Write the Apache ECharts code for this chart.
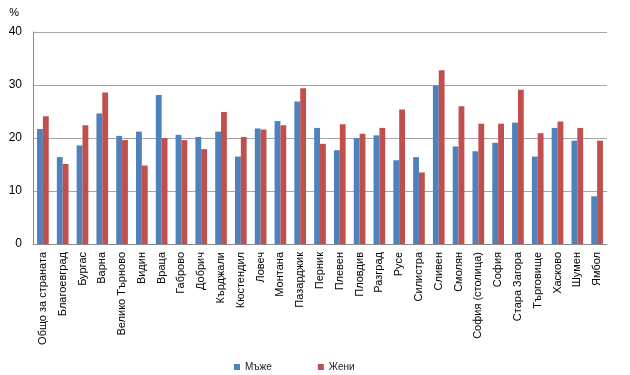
<!DOCTYPE html>
<html>
<head>
<meta charset="utf-8">
<script src="https://cdn.jsdelivr.net/npm/echarts@6/dist/echarts.min.js"></script>
<style>
    html, body { margin: 0; padding: 0; background: #fff; }
    #container { width: 630px; height: 375px; }
</style>
</head>
<body>
<div id="container"></div>
<script>
var regions = ['Общо за страната', 'Благоевград', 'Бургас', 'Варна', 'Велико Търново', 'Видин', 'Враца',
    'Габрово', 'Добрич', 'Кърджали', 'Кюстендил', 'Ловеч', 'Монтана', 'Пазарджик', 'Перник', 'Плевен',
    'Пловдив', 'Разград', 'Русе', 'Силистра', 'Сливен', 'Смолян', 'София (столица)', 'София',
    'Стара Загора', 'Търговище', 'Хасково', 'Шумен', 'Ямбол'];
var men = [21.7, 16.4, 18.6, 24.6, 20.4, 21.2, 28.1, 20.6, 20.2, 21.2, 16.5, 21.8, 23.2, 26.9, 21.9,
    17.7, 20.0, 20.5, 15.8, 16.4, 29.9, 18.4, 17.5, 19.1, 22.9, 16.5, 21.9, 19.5, 9.0];
var women = [24.1, 15.1, 22.4, 28.6, 19.6, 14.8, 20.0, 19.6, 17.9, 24.9, 20.2, 21.6, 22.4, 29.4, 18.9,
    22.6, 20.8, 21.9, 25.4, 13.5, 32.8, 26.0, 22.7, 22.7, 29.1, 20.9, 23.1, 21.9, 19.5];
var seriesNames = ['Мъже', 'Жени'];

var font = '"Liberation Sans", Arial, sans-serif';
var myChart = echarts.init(document.getElementById('container'));
var option = {
    animation: false,
    textStyle: { fontFamily: font },
    grid: { left: 33, right: 23, top: 32, bottom: 131 },
    legend: {
        data: seriesNames,
        left: 229,
        top: 357,
        itemWidth: 6,
        itemHeight: 6,
        itemGap: 46,
        icon: 'rect',
        textStyle: { fontSize: 10, color: '#222', fontFamily: font }
    },
    xAxis: {
        type: 'category',
        data: regions,
        axisLine: { lineStyle: { color: '#8c8c8c' } },
        axisTick: { show: false },
        axisLabel: {
            rotate: 90,
            interval: 0,
            fontSize: 11,
            color: '#000',
            margin: 8
        }
    },
    yAxis: {
        type: 'value',
        name: '%',
        nameLocation: 'end',
        nameGap: 14,
        nameTextStyle: { fontSize: 11, color: '#000', align: 'right', padding: [0, 14, 0, 0] },
        min: 0,
        max: 40,
        interval: 10,
        axisLine: { show: true, lineStyle: { color: '#8c8c8c' } },
        axisTick: { show: false },
        axisLabel: { fontSize: 12, color: '#000', margin: 11 },
        splitLine: { lineStyle: { color: '#a6a6a6' } }
    },
    series: [
        {
            name: seriesNames[0],
            type: 'bar',
            data: men,
            barGap: '0%',
            barCategoryGap: '41%',
            itemStyle: { color: '#4f81bd' }
        },
        {
            name: seriesNames[1],
            type: 'bar',
            data: women,
            barGap: '0%',
            barCategoryGap: '41%',
            itemStyle: { color: '#c0504d' }
        }
    ]
};
option && myChart.setOption(option);
</script>
</body>
</html>
